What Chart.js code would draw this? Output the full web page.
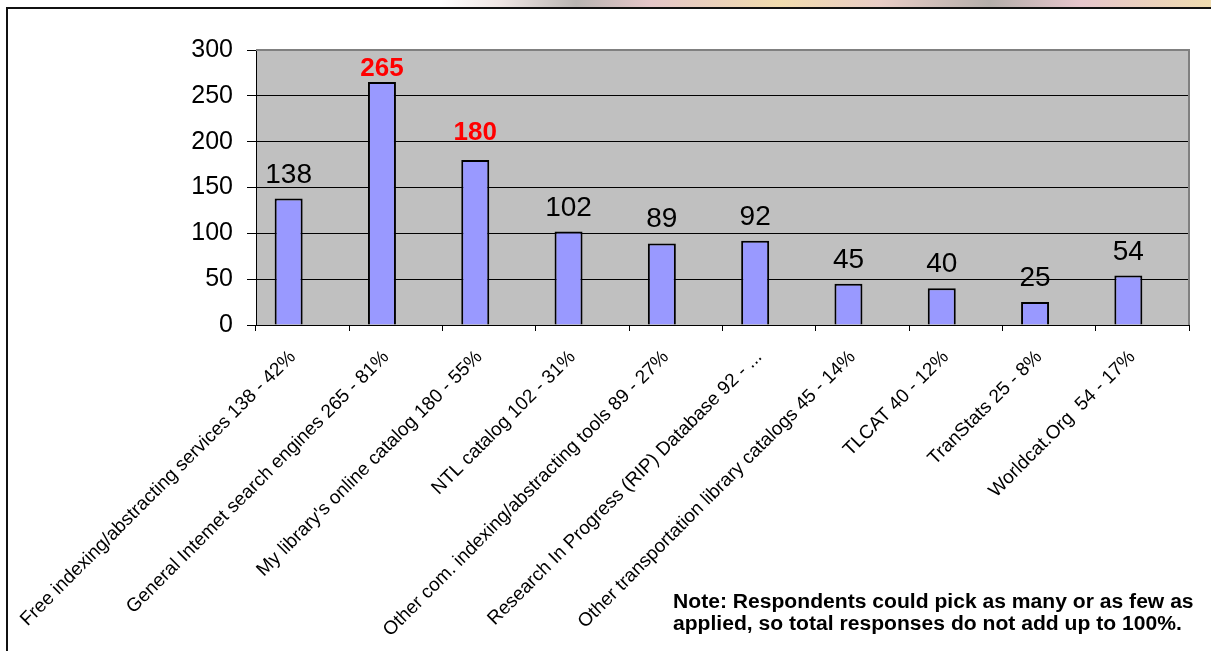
<!DOCTYPE html>
<html>
<head>
<meta charset="utf-8">
<script src="https://cdn.jsdelivr.net/npm/chart.js"></script>
<style>
    body {
        margin: 0;
        background: #fff;
        font-family: "Liberation Sans", Arial, sans-serif;
    }
    .slide-strip {
        position: absolute;
        left: 0;
        top: 0;
        width: 1211px;
        height: 7px;
        background: linear-gradient(to right, #fff 0px, #fff 440px, #efe6e4 500px, #b9b5b2 576px,
            #e4c6c8 650px, #f1dcae 780px, #e9cdc6 880px, #b4aeaa 990px, #e6c6cc 1080px, #f0dcb0 1211px);
    }
    .frame {
        position: absolute;
        left: 6px;
        top: 7px;
        width: 1205px;
        height: 644px;
        box-sizing: border-box;
        border-top: 2px solid #111;
        border-left: 2px solid #111;
    }
    .chart-container {
        position: absolute;
        left: 0;
        top: 0;
        width: 1211px;
        height: 651px;
    }
    .note {
        position: absolute;
        left: 673px;
        top: 590px;
        font-size: 20px;
        line-height: 22px;
        font-weight: bold;
        color: #000;
        white-space: nowrap;
        transform: scaleX(1.055);
        transform-origin: left top;
    }
</style>
</head>
<body>
<div class="slide-strip"></div>
<div class="frame"></div>
<div class="chart-container">
    <canvas id="resourceChart"></canvas>
</div>
<div class="note">Note: Respondents could pick as many or as few as<br>applied, so total responses do not add up to 100%.</div>

<script>
    var categories = [
        'Free indexing/abstracting services 138 - 42%',
        'General Intemet search engines 265 - 81%',
        'My library\'s online catalog 180 - 55%',
        'NTL catalog 102 - 31%',
        'Other com. indexing/abstracting tools 89 - 27%',
        'Research In Progress (RIP) Database 92 - ...',
        'Other transportation library catalogs 45 - 14%',
        'TLCAT 40 - 12%',
        'TranStats 25 - 8%',
        'Worldcat.Org  54 - 17%'
    ];
    var responses = [138, 265, 180, 102, 89, 92, 45, 40, 25, 54];
    // second series is left empty, it only keeps the bars in the left half of each slot
    var percentSeries = [null, null, null, null, null, null, null, null, null, null];
    var yTickValues = [0, 50, 100, 150, 200, 250, 300];
    // categories whose count label is shown in bold red
    var highlighted = [1, 2];

    var fontFamily = '"Liberation Sans", Arial, sans-serif';
    Chart.defaults.font.family = fontFamily;
    Chart.defaults.color = '#000';

    // grey plot area with the lighter frame on top and right
    var plotBackground = {
        id: 'plotBackground',
        beforeDraw: function(chart) {
            var a = chart.chartArea;
            var ctx = chart.ctx;
            ctx.save();
            ctx.fillStyle = '#c0c0c0';
            ctx.fillRect(a.left, a.top, a.right - a.left, a.bottom - a.top);
            ctx.restore();
        },
        afterDraw: function(chart) {
            var a = chart.chartArea;
            var ctx = chart.ctx;
            ctx.save();
            ctx.strokeStyle = '#808080';
            ctx.lineWidth = 2;
            ctx.beginPath();
            ctx.moveTo(a.left, a.top);
            ctx.lineTo(a.right, a.top);
            ctx.lineTo(a.right, a.bottom);
            ctx.stroke();
            ctx.restore();
        }
    };

    // count written above every bar, kept inside the plot area
    var valueLabels = {
        id: 'valueLabels',
        afterDatasetsDraw: function(chart) {
            var ctx = chart.ctx;
            var meta = chart.getDatasetMeta(0);
            ctx.save();
            ctx.textAlign = 'center';
            ctx.textBaseline = 'alphabetic';
            meta.data.forEach(function(bar, i) {
                var hi = highlighted.indexOf(i) >= 0;
                ctx.font = hi ? 'bold 26px ' + fontFamily : '28px ' + fontFamily;
                ctx.fillStyle = hi ? '#ff0000' : '#000';
                var y = Math.max(bar.y - (hi ? 20 : 16), chart.chartArea.top + 26);
                ctx.fillText(String(responses[i]), bar.x, y);
            });
            ctx.restore();
        }
    };

    var ctx = document.getElementById('resourceChart').getContext('2d');
    var resourceChart = new Chart(ctx, {
        type: 'bar',
        data: {
            labels: categories,
            datasets: [{
                label: 'Responses',
                data: responses,
                backgroundColor: '#9999ff',
                borderColor: '#000',
                borderWidth: 2,
                categoryPercentage: 0.6,
                barPercentage: 1
            }, {
                label: 'Percent',
                data: percentSeries,
                categoryPercentage: 0.6,
                barPercentage: 1
            }]
        },
        options: {
            responsive: true,
            maintainAspectRatio: false,
            animation: false,
            layout: {
                padding: { top: 50, right: 22, bottom: 0, left: 0 }
            },
            plugins: {
                legend: { display: false },
                tooltip: { enabled: false }
            },
            scales: {
                x: {
                    ticks: {
                        color: '#000',
                        font: { size: 19 },
                        minRotation: 45,
                        maxRotation: 45,
                        autoSkip: false,
                        padding: 15,
                        labelOffset: -10
                    },
                    grid: {
                        offset: true,
                        drawOnChartArea: false,
                        tickLength: 6,
                        tickColor: '#000',
                        color: '#000'
                    },
                    border: { color: '#000', width: 1 },
                    afterFit: function(scale) {
                        scale.height = 326;
                        scale.paddingLeft = 0;
                        scale.paddingRight = 0;
                    }
                },
                y: {
                    min: yTickValues[0],
                    max: yTickValues[yTickValues.length - 1],
                    afterBuildTicks: function(scale) {
                        scale.ticks = yTickValues.map(function(v) { return { value: v }; });
                    },
                    ticks: {
                        color: '#000',
                        font: { size: 25 },
                        padding: 14
                    },
                    grid: {
                        color: '#000',
                        lineWidth: 1,
                        tickLength: 9,
                        tickColor: '#000'
                    },
                    border: { color: '#000', width: 1 },
                    afterFit: function(scale) {
                        scale.width = 256;
                    }
                }
            }
        },
        plugins: [plotBackground, valueLabels]
    });
</script>
</body>
</html>
